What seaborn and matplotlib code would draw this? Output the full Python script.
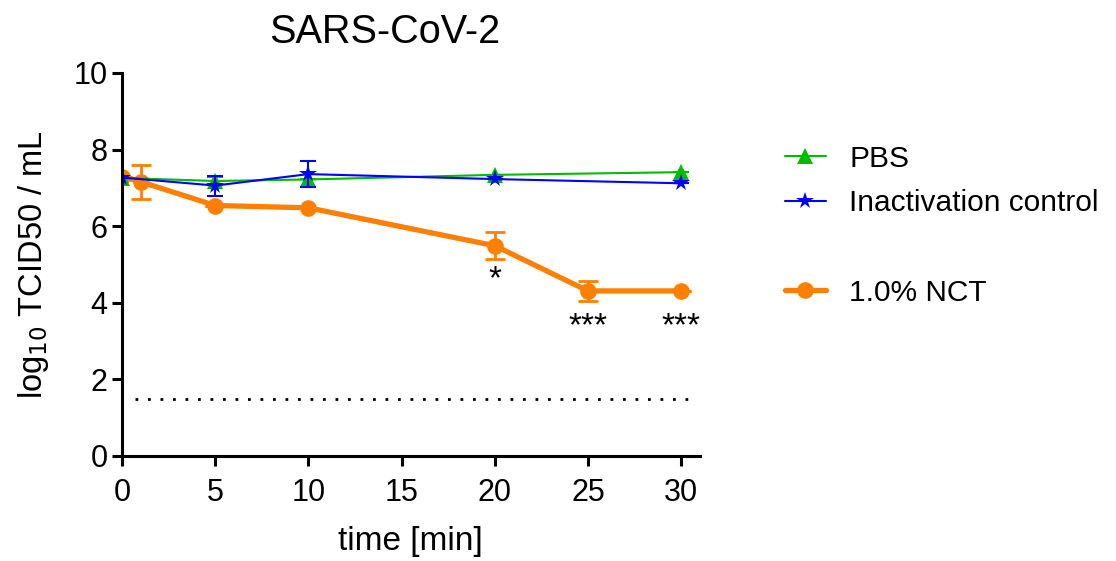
import numpy as np
import pandas as pd
import seaborn as sns
import matplotlib.pyplot as plt
from matplotlib.lines import Line2D

# data
time_ctrl = [0, 5, 10, 20, 30]
pbs = [7.26, 7.18, 7.22, 7.34, 7.41]
pbs_err = [0.0, 0.1, 0.0, 0.0, 0.0]
inact = [7.27, 7.06, 7.36, 7.23, 7.12]
inact_err = [0.0, 0.26, 0.34, 0.0, 0.0]

time_nct = [0, 1, 5, 10, 20, 25, 30]
nct = [7.29, 7.16, 6.54, 6.48, 5.49, 4.31, 4.31]
nct_err = [0.0, 0.44, 0.0, 0.0, 0.35, 0.26, 0.0]

detection_limit = 1.5
sig_x = [20, 25, 30]
sig_y = [4.37, 3.15, 3.15]
sig_labels = ["*", "***", "***"]

c_pbs = "#00BB00"
c_inact = "#0000FF"
c_nct = "#FF8000"

sns.set_style("ticks")
plt.rcParams["font.family"] = ["Liberation Sans", "DejaVu Sans"]
plt.rcParams.update({"text.color": "black", "axes.labelcolor": "black",
                     "xtick.color": "black", "ytick.color": "black",
                     "axes.edgecolor": "black"})

fig = plt.figure(figsize=(11.16, 5.61), dpi=100)
ax = fig.add_axes([0.1093, 0.1872, 0.5177, 0.8699 - 0.1872])

# dotted detection limit
ax.plot([0.7, 30.4], [detection_limit, detection_limit], ls=(0, (1, 3.5)),
        color="black", lw=2.0, zorder=1)

df_nct = pd.DataFrame({"t": time_nct, "v": nct})
df_pbs = pd.DataFrame({"t": time_ctrl, "v": pbs})
df_inact = pd.DataFrame({"t": time_ctrl, "v": inact})

ax.errorbar(time_nct, nct, yerr=nct_err, fmt="none", ecolor=c_nct,
            elinewidth=2, capsize=7, capthick=2, zorder=2)
sns.lineplot(data=df_nct, x="t", y="v", ax=ax, color=c_nct, lw=3.8,
             marker="o", markersize=12, markeredgewidth=0, zorder=3)

ax.errorbar(time_ctrl, pbs, yerr=pbs_err, fmt="none", ecolor=c_pbs,
            elinewidth=1.5, capsize=6, capthick=1.5, zorder=4)
sns.lineplot(data=df_pbs, x="t", y="v", ax=ax, color=c_pbs, lw=1.5,
             marker="^", markersize=11, markeredgewidth=0, zorder=5)

ax.errorbar(time_ctrl, inact, yerr=inact_err, fmt="none", ecolor=c_inact,
            elinewidth=1.5, capsize=6, capthick=1.5, zorder=6)
sns.lineplot(data=df_inact, x="t", y="v", ax=ax, color=c_inact, lw=1.5,
             marker="*", markersize=13, markeredgewidth=0, zorder=7)

# significance marks
for x, y, s in zip(sig_x, sig_y, sig_labels):
    ax.text(x, y, s, ha="center", va="baseline", fontsize=24)

ax.set_xlim(0, 31)
ax.set_ylim(0, 10)
ax.set_xticks([0, 5, 10, 15, 20, 25, 30])
ax.set_yticks([0, 2, 4, 6, 8, 10])
ax.tick_params(labelsize=22, width=2.2, length=7.5)
ax.tick_params(axis="x", pad=8)
ax.tick_params(axis="y", pad=3)
for side in ["top", "right"]:
    ax.spines[side].set_visible(False)
for side in ["left", "bottom"]:
    ax.spines[side].set_linewidth(2.2)
ax.spines["left"].set_zorder(10)

ax.set_xlabel("time [min]", fontsize=24, labelpad=13)
ax.set_ylabel("log$_{10}$ TCID50 / mL", fontsize=23.5, labelpad=16)
ax.set_title("SARS-CoV-2", fontsize=28.5, pad=21.5, x=0.455)

handles = [
    Line2D([], [], color=c_pbs, lw=1.5, marker="^", markersize=11, markeredgewidth=0),
    Line2D([], [], color=c_inact, lw=1.5, marker="*", markersize=13, markeredgewidth=0),
    Line2D([], [], color="none"),
    Line2D([], [], color=c_nct, lw=3.8, marker="o", markersize=12, markeredgewidth=0),
]
labels = ["PBS", "Inactivation control", " ", "1.0% NCT"]
fig.legend(handles, labels, loc="upper left", bbox_to_anchor=(0.703, 0.742),
           frameon=False, fontsize=21.5, borderpad=0, borderaxespad=0,
           handlelength=1.4, handletextpad=0.77, labelspacing=0.56)

fig.savefig("out.png", dpi=100)
